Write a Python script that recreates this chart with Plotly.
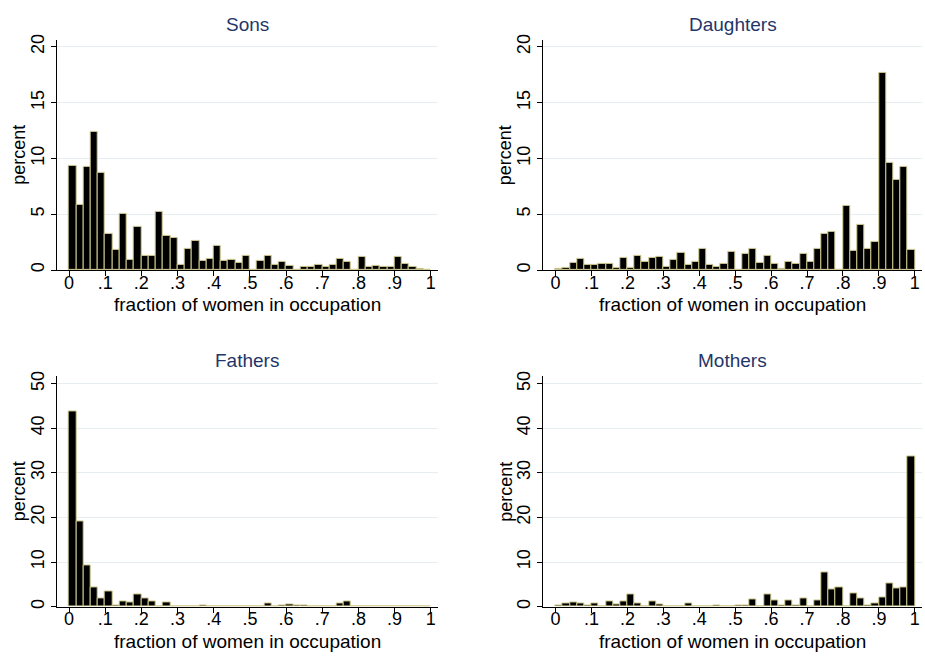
import plotly.graph_objects as go

W, H = 925, 659

# ---- data: percent of observations in each 0.02-wide bin of "fraction of women in occupation"
bin_width = 0.02
bin_left = [round(i * bin_width, 2) for i in range(50)]
bin_center = [round(b + bin_width / 2, 3) for b in bin_left]

sons = [9.3, 5.8, 9.2, 12.4, 8.7, 3.2, 1.8, 5.0, 0.9, 3.9,
        1.3, 1.3, 5.2, 3.1, 2.9, 0.5, 1.9, 2.6, 0.8, 1.0,
        2.2, 0.8, 0.9, 0.65, 1.3, 0.06, 0.8, 1.3, 0.47, 0.77,
        0.35, 0.03, 0.3, 0.24, 0.47, 0.24, 0.44, 0.97, 0.71, 0.03,
        1.21, 0.27, 0.38, 0.27, 0.24, 1.18, 0.59, 0.3, 0.12, 0.03]

daughters = [0.09, 0.18, 0.65, 0.97, 0.5, 0.44, 0.56, 0.56, 0.18, 1.12,
             0.18, 1.24, 0.74, 1.09, 1.21, 0.24, 0.88, 1.5, 0.44, 0.77,
             1.92, 0.5, 0.3, 0.56, 1.65, 0.06, 1.42, 1.86, 0.65, 1.24,
             0.53, 0.09, 0.77, 0.53, 1.47, 0.74, 1.89, 3.27, 3.45, 0.0,
             5.75, 1.74, 4.04, 1.86, 2.51, 17.67, 9.62, 8.11, 9.23, 1.77]

fathers = [43.8, 19.2, 9.2, 4.2, 1.9, 3.5, 0.2, 1.1, 1.0, 2.7,
           1.9, 1.2, 0.15, 0.9, 0.07, 0.07, 0.07, 0.05, 0.37, 0.05,
           0.05, 0.05, 0.05, 0.1, 0.05, 0.05, 0.05, 0.74, 0.05, 0.37,
           0.59, 0.2, 0.3, 0.1, 0.07, 0.05, 0.07, 0.66, 1.18, 0.1,
           0.05, 0.05, 0.05, 0.05, 0.05, 0.07, 0.07, 0.05, 0.03, 0.03]

mothers = [0.3, 0.66, 0.96, 0.74, 0.3, 0.81, 0.07, 1.1, 0.59, 1.18,
           2.73, 0.81, 0.07, 1.1, 0.52, 0.07, 0.05, 0.05, 0.74, 0.1,
           0.05, 0.05, 0.22, 0.05, 0.05, 0.22, 0.3, 1.62, 0.05, 2.66,
           1.33, 0.22, 1.4, 0.3, 1.92, 0.05, 1.4, 7.6, 3.9, 4.36,
           0.0, 2.95, 1.77, 0.3, 0.81, 2.07, 5.1, 4.06, 4.2, 33.75]

x_tickvals = [0, 0.1, 0.2, 0.3, 0.4, 0.5, 0.6, 0.7, 0.8, 0.9, 1]
x_ticktext = ["0", ".1", ".2", ".3", ".4", ".5", ".6", ".7", ".8", ".9", "1"]
y_ticks_small = [0, 5, 10, 15, 20]
y_ticks_large = [0, 10, 20, 30, 40, 50]

titles = ["Sons", "Daughters", "Fathers", "Mothers"]
series = [sons, daughters, fathers, mothers]

# ---- layout geometry (pixels)
col_x = [(56.7, 438.0), (543.3, 922.0)]
row_y = [(34.3, 267.3), (375.0, 608.0)]
y_tops = [20.62, 51.6]
y_tickvals = [y_ticks_small, y_ticks_large]

FONT = "Liberation Sans, Arial, Helvetica, sans-serif"
TITLE_COLOR = "#1f3668"
GRID = "#e7eef1"

fig = go.Figure()
layout = dict(width=W, height=H, margin=dict(l=0, r=0, t=0, b=0),
              paper_bgcolor="white", plot_bgcolor="white", showlegend=False,
              font=dict(family=FONT, size=18, color="black"), bargap=0)
annotations = []

for i, (title, vals) in enumerate(zip(titles, series)):
    r, c = divmod(i, 2)
    idx = "" if i == 0 else str(i + 1)
    xa, ya = "x" + idx, "y" + idx
    fig.add_trace(go.Bar(x=bin_center, y=vals, width=bin_width, xaxis=xa, yaxis=ya,
                         marker=dict(color="black", line=dict(color="#cfc98f", width=1))))
    x0, x1 = col_x[c]
    y0, y1 = row_y[r]
    layout["xaxis" + idx] = dict(domain=[x0 / W, x1 / W], range=[-0.034, 1.02], anchor=ya,
                                 showline=True, linecolor="black", linewidth=1,
                                 ticks="outside", ticklen=5, tickcolor="black",
                                 tickvals=x_tickvals, ticktext=x_ticktext,
                                 ticklabelstandoff=-9,
                                 showgrid=False, zeroline=False,
                                 tickfont=dict(size=18))
    layout["yaxis" + idx] = dict(domain=[1 - y1 / H, 1 - y0 / H], range=[0, y_tops[r]], anchor=xa,
                                 showline=True, linecolor="black", linewidth=1,
                                 ticks="outside", ticklen=5, tickcolor="black",
                                 tickvals=y_tickvals[r], tickangle=-90,
                                 showgrid=True, gridcolor=GRID, gridwidth=1, zeroline=False,
                                 tickfont=dict(size=18))
    cx = (x0 + x1) / 2
    # panel title
    annotations.append(dict(text=title, x=cx / W, y=1 - (y0 - 16) / H, xref="paper", yref="paper",
                            xanchor="center", yanchor="middle", showarrow=False,
                            font=dict(size=19, color=TITLE_COLOR)))
    # x title
    annotations.append(dict(text="fraction of women in occupation", x=cx / W, y=1 - (y1 + 35) / H,
                            xref="paper", yref="paper", xanchor="center", yanchor="middle",
                            showarrow=False, font=dict(size=19)))
    # y title
    annotations.append(dict(text="percent", x=(x0 - 38) / W, y=1 - ((y0 + y1) / 2) / H,
                            xref="paper", yref="paper", xanchor="center", yanchor="middle",
                            textangle=-90, showarrow=False, font=dict(size=18)))

layout["annotations"] = annotations
fig.update_layout(**layout)
fig.write_html("out.html", config={"displayModeBar": False},
               post_script="document.body.style.margin='0px';")
